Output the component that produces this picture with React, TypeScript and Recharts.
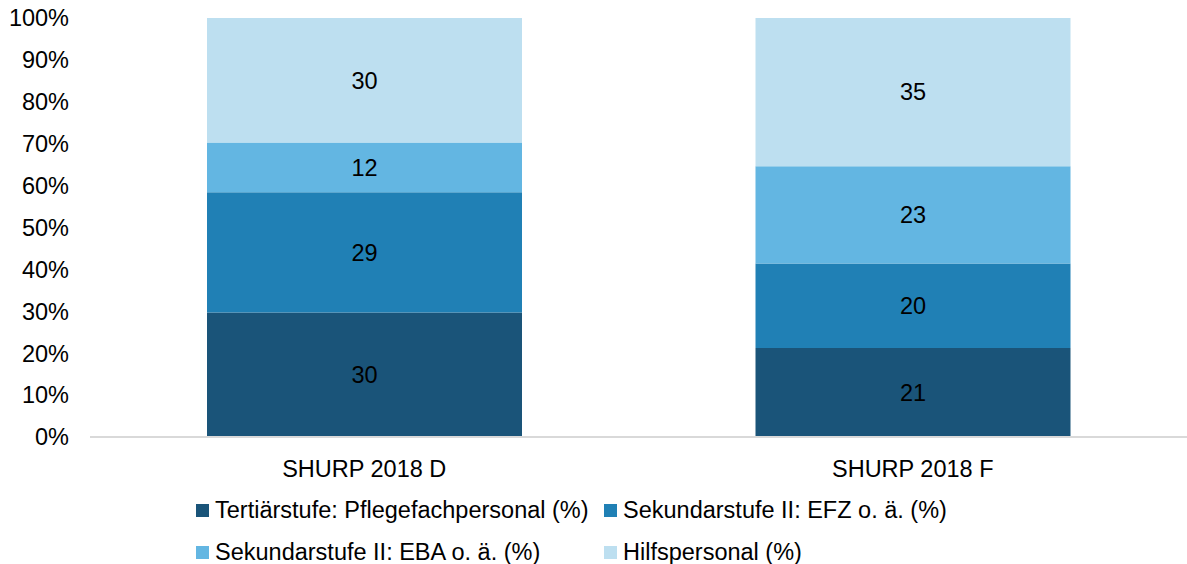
import { BarChart, Bar, XAxis, YAxis, LabelList, Legend } from 'recharts'

const categories = ['SHURP 2018 D', 'SHURP 2018 F']
const tertiaer = [30, 21]
const efz = [29, 20]
const eba = [12, 23]
const hilfs = [30, 35]
const yTicks = [0, 0.1, 0.2, 0.3, 0.4, 0.5, 0.6, 0.7, 0.8, 0.9, 1]

const SERIES = [
  { key: 'tertiaer', name: 'Tertiärstufe: Pflegefachpersonal (%)', color: '#1a5479' },
  { key: 'efz', name: 'Sekundarstufe II: EFZ o. ä. (%)', color: '#2080b5' },
  { key: 'eba', name: 'Sekundarstufe II: EBA o. ä. (%)', color: '#63b6e2' },
  { key: 'hilfs', name: 'Hilfspersonal (%)', color: '#bddff0' },
]

const data = categories.map((c, i) => ({
  name: c,
  tertiaer: tertiaer[i],
  efz: efz[i],
  eba: eba[i],
  hilfs: hilfs[i],
}))

const FONT = 23.5

function LegendGrid() {
  return (
    <div style={{ height: 77, position: 'relative' }}>
      {SERIES.map((s, i) => (
        <div
          key={s.key}
          style={{
            position: 'absolute',
            left: i % 2 === 0 ? 196 : 604,
            top: 2 + Math.floor(i / 2) * 42,
            height: 42,
            display: 'flex',
            alignItems: 'center',
            whiteSpace: 'nowrap',
            fontSize: FONT,
            color: '#000',
          }}
        >
          <span style={{ width: 13, height: 13, background: s.color, display: 'inline-block', marginRight: 6 }} />
          {s.name}
        </div>
      ))}
    </div>
  )
}

export default function App() {
  return (
    <div style={{ position: 'absolute', left: 0, top: 0, fontFamily: '"Liberation Sans", Arial, sans-serif' }}>
      <BarChart
        width={1187}
        height={564}
        data={data}
        stackOffset="expand"
        margin={{ top: 18, right: 0, bottom: 0, left: 0 }}
      >
        <XAxis
          dataKey="name"
          height={50}
          axisLine={{ stroke: '#d9d9d9', strokeWidth: 2 }}
          tickLine={false}
          tickMargin={17}
          tick={{ fill: '#000', fontSize: FONT }}
        />
        <YAxis
          width={90}
          domain={[0, 1]}
          ticks={yTicks}
          axisLine={false}
          tickLine={false}
          tickMargin={15}
          tick={{ fill: '#000', fontSize: FONT }}
          tickFormatter={(v: number) => `${Math.round(v * 100)}%`}
        />
        <Legend
          verticalAlign="bottom"
          content={() => <LegendGrid />}
          wrapperStyle={{ left: 0, width: 1187, height: 77 }}
        />
        {SERIES.map((s) => (
          <Bar key={s.key} dataKey={s.key} name={s.name} stackId="a" fill={s.color} barSize={315} isAnimationActive={false}>
            <LabelList dataKey={s.key} position="center" fill="#000" fontSize={FONT} />
          </Bar>
        ))}
      </BarChart>
    </div>
  )
}
